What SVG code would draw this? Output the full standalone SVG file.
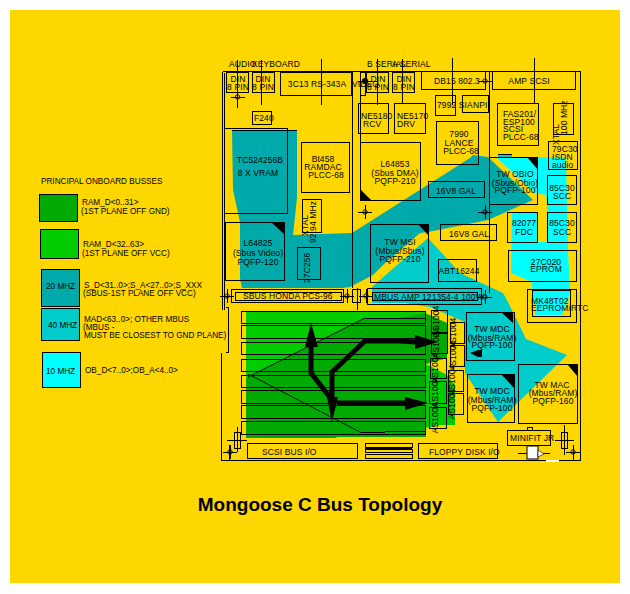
<svg xmlns="http://www.w3.org/2000/svg" width="630" height="594" viewBox="0 0 630 594">
<style>
text{font-family:"Liberation Sans",Arial,sans-serif;font-size:8.5px;fill:#000;letter-spacing:.1px}
#legend text{font-size:8.2px;letter-spacing:0}
.m{text-anchor:middle}
.b{fill:none;stroke:#000;stroke-width:1;shape-rendering:crispEdges}
.l{fill:none;stroke:#000;stroke-width:1;shape-rendering:crispEdges}
.s{stroke:#000;stroke-width:1;shape-rendering:crispEdges}
.k{fill:#000}
.th{fill:none;stroke:#000;stroke-width:5;stroke-linejoin:miter}
.thin{fill:none;stroke:#000;stroke-width:.9}
.title{font-size:19px;font-weight:bold;letter-spacing:0}
</style>
<defs>
<g id="cross"><line class="l" x1="-7" x2="7" y1="0" y2="0"/><line class="l" x1="0" x2="0" y1="-7" y2="7"/><circle class="thin" r="2.2"/></g>
</defs>
<rect width="630" height="594" fill="#fff"/>
<rect x="10" y="10" width="610" height="573" fill="#FFD700"/>

<g id="planes">
<polygon id="ram-hi" fill="#00CC00" points="246,312 425,312 425,378 246,378"/>
<polygon id="ram-lo" fill="#00AA00" points="246,378 365,318 400,318 425,313 447,323 447,358 426,364 426,437 337,437 336,438 246,438 246,408 246,378"/>
<polygon id="ram-hi2" fill="#00CC00" points="426,364 447,375 455,385 455,425 440,425 426,428"/>
<polygon id="sbus" fill="#00AAAA" points="232,130 297,130 297,198 293,235 352,233 470,158 473,155 488,157 533,200 488,220 428,232 420,233 383,265 373,275 350,287 343,288 242,288 240,278 240,222 233,190"/>
<polygon id="mbus" fill="#00CCCC" points="428,238 372,287 372,303 405,303 430,307 465,322 465,373 498,422 567,355 526,339 507,300 503,293 460,273"/>
<polygon id="obus" fill="#00FFFF" points="497,158 566,157 568,250 570,290 568,300 562,315 535,315 535,305 532,292 532,282 511,273 512,212 537,212 537,242 547,242 547,203 546,195 535,193"/>
</g>

<g id="connectors">
<path class="l" d="M222.500 71.500H580.500V460.500H221.500V353M222.500 71.500V310M224.500 73V310M352 71V288M360.500 71V200M489.500 71V293M357 288V310"/>
<path class="l" d="M226 307.500H228.500V352.500H226"/>
<path class="l" d="M237.500 60V108M261.500 60V105M321.500 59V105M377.500 59V105M402.500 59V104M452.500 58V105M534.500 58V104"/>
<path class="l" d="M232 130.500H297"/>
<line class="thin" x1="248" y1="377" x2="365" y2="318"/>
<line class="thin" x1="248" y1="374" x2="360" y2="432"/>
<path class="l" d="M365 318H425M360 432.500H385M385 431H425"/>
<path class="th" d="M332 400L311 373V345"/>
<polygon class="k" points="311,323 305,347 318,347"/>
<path class="th" d="M332 397V372L365 341H400L416 342"/>
<polygon class="k" points="438,342 415,335 415,349"/>
<path class="th" d="M337 403H406"/>
<polygon class="k" points="428,403 405,397 405,410"/>
<polygon class="k" points="332,422 327,397 338,397"/>
<polygon class="k" points="470,353 478,350 482,350 482,357 478,357"/>
<rect x="498" y="154" width="14" height="3" fill="#00CCCC"/>
<path class="l" d="M498 154.500H512"/>
</g>

<g id="crosshairs">
<use href="#cross" x="237.500" y="97"/>
<use href="#cross" x="227" y="296"/>
<use href="#cross" x="347" y="296"/>
<use href="#cross" x="366" y="296"/>
<use href="#cross" x="485" y="297"/>
<use href="#cross" x="485" y="212"/>
<use href="#cross" x="365" y="212"/>
<use href="#cross" x="230" y="452"/>
<use href="#cross" x="573" y="452"/>
<use href="#cross" x="485" y="81"/>
<use href="#cross" x="365" y="81"/>
<circle cx="365" cy="81" r="3" class="k"/>
</g>

<g id="legend">
<text x="41" y="184">PRINCIPAL ONBOARD BUSSES</text>
<rect class="s" x="39.500" y="194.500" width="38" height="27" fill="#00AA00"/>
<text x="82" y="205">RAM_D&lt;0..31&gt;</text><text x="81" y="214">(1ST PLANE OFF GND)</text>
<rect class="s" x="40.500" y="229.500" width="38" height="29" fill="#00CC00"/>
<text x="83" y="247">RAM_D&lt;32..63&gt;</text><text x="82" y="256">(1ST PLANE OFF VCC)</text>
<rect class="s" x="41.500" y="269.500" width="38" height="37" fill="#00AAAA"/>
<text x="46" y="289">20 MHZ</text>
<text x="84" y="288">S_D&lt;31..0&gt;;S_A&lt;27..0&gt;;S_XXX</text><text x="83" y="296">(SBUS-1ST PLANE OFF VCC)</text>
<rect class="s" x="41.500" y="308.500" width="38" height="32" fill="#00CCCC"/>
<text x="48" y="328">40 MHZ</text>
<text x="84" y="322">MAD&lt;63..0&gt;; OTHER MBUS</text><text x="83" y="330">(MBUS -</text><text x="84" y="338">MUST BE CLOSEST TO GND PLANE)</text>
<rect class="s" x="42.500" y="352.500" width="38" height="35" fill="#00FFFF"/>
<text x="46" y="374">10 MHZ</text>
<text x="85" y="373">OB_D&lt;7..0&gt;;OB_A&lt;4..0&gt;</text>
</g>

<g id="board-labels">
<text x="229" y="67">AUDIO</text><text x="252" y="67">KEYBOARD</text>
<text x="367" y="67">B SERIAL</text><text x="392" y="67">A SERIAL</text>
<text x="352" y="87">VIDEO</text>
</g>

<g id="din1"><rect class="b" x="226.500" y="72.500" width="22" height="20"/><text class="m" x="238" y="82">DIN</text><text class="m" x="238" y="90">8 PIN</text></g>
<g id="din2"><rect class="b" x="252.500" y="72.500" width="22" height="20"/><text class="m" x="263" y="82">DIN</text><text class="m" x="263" y="90">8 PIN</text></g>
<g id="n3c13"><rect class="b" x="280.500" y="72.500" width="71" height="23"/><text class="m" x="317" y="87">3C13 RS-343A</text></g>
<rect class="b" x="360.500" y="72.500" width="5" height="23"/>
<g id="din3"><rect class="b" x="366.500" y="72.500" width="22" height="20"/><text class="m" x="378" y="82">DIN</text><text class="m" x="378" y="90">8 PIN</text></g>
<g id="din4"><rect class="b" x="392.500" y="72.500" width="22" height="20"/><text class="m" x="404" y="82">DIN</text><text class="m" x="404" y="90">8 PIN</text></g>
<g id="db15"><rect class="b" x="421.500" y="71.500" width="64" height="18"/><text class="m" x="457" y="84">DB15 802.3</text></g>
<g id="ampscsi"><rect class="b" x="492.500" y="71.500" width="83" height="18"/><text class="m" x="529" y="84">AMP SCSI</text></g>
<g id="f240"><rect class="b" x="252.500" y="111.500" width="19" height="13"/><text x="254" y="121">F240</text></g>
<g id="vram"><rect class="b" x="224.500" y="128.500" width="63" height="85"/><text class="m" x="260" y="163">TC524256B</text><text class="m" x="258" y="176">8 X VRAM</text></g>
<g id="bt458"><rect class="b" x="301.500" y="142.500" width="48" height="50"/><text class="m" x="323" y="162">Bt458</text><text class="m" x="323" y="170">RAMDAC</text><text class="m" x="326" y="178">PLCC-68</text></g>
<g id="ne5180"><rect class="b" x="358.500" y="103.500" width="30" height="30"/><text x="361" y="119">NE5180</text><text x="363" y="127">RCV</text></g>
<g id="ne5170"><rect class="b" x="394.500" y="103.500" width="31" height="30"/><text x="397" y="119">NE5170</text><text x="397" y="127">DRV</text></g>
<g id="l64853"><rect class="b" x="360.500" y="142.500" width="60" height="58"/><polygon class="k" points="361,190 361,201 372,201"/><text class="m" x="395" y="167">L64853</text><text class="m" x="395" y="176">(Sbus DMA)</text><text class="m" x="395" y="184">PQFP-210</text></g>
<g id="n7992"><rect class="b" x="435.500" y="95.500" width="20" height="20"/><text x="437" y="108">7992 SIA</text></g>
<g id="npi"><rect class="b" x="462.500" y="95.500" width="26" height="17"/><text x="473" y="108">NPI</text></g>
<g id="n7990"><rect class="b" x="436.500" y="121.500" width="42" height="43"/><text class="m" x="459" y="137">7990</text><text class="m" x="459" y="146">LANCE</text><text class="m" x="461" y="154">PLCC-68</text></g>
<g id="fas201"><rect class="b" x="497.500" y="103.500" width="41" height="42"/><text x="503" y="117">FAS201/</text><text x="503" y="125">ESP100</text><text x="503" y="132">SCSI</text><text x="503" y="140">PLCC-68</text></g>
<g id="xtal100"><rect class="b" x="553.500" y="103.500" width="20" height="31"/><text transform="translate(559,145) rotate(-90)">XTAL</text><text transform="translate(567,135) rotate(-90)">100 MHz</text></g>
<g id="isdn"><rect class="b" x="548.500" y="141.500" width="29" height="28"/><text x="552" y="152">79C30</text><text x="552" y="160">ISDN</text><text x="552" y="168">audio</text></g>
<g id="scc1"><rect class="b" x="547.500" y="175.500" width="29" height="29"/><text class="m" x="562" y="191">85C30</text><text class="m" x="562" y="199">SCC</text></g>
<g id="scc2"><rect class="b" x="547.500" y="212.500" width="29" height="30"/><text class="m" x="562" y="226">85C30</text><text class="m" x="562" y="235">SCC</text></g>
<g id="fdc"><rect class="b" x="507.500" y="212.500" width="30" height="30"/><text class="m" x="524" y="226">82077</text><text class="m" x="524" y="235">FDC</text></g>
<g id="eprom"><rect class="b" x="508.500" y="250.500" width="68" height="31"/><text class="m" x="546" y="265">27C020</text><text class="m" x="546" y="272">EPROM</text></g>
<g id="mk48"><rect class="b" x="527.500" y="289.500" width="49" height="33"/><rect class="b" x="532.500" y="290.500" width="38" height="26"/><text x="531" y="304">MK48T02</text><text x="531" y="311">EEPROM/RTC</text></g>
<g id="gal1"><rect class="b" x="428.500" y="181.500" width="56" height="16"/><text class="m" x="456" y="194">16V8 GAL</text></g>
<g id="gal2"><rect class="b" x="440.500" y="224.500" width="56" height="16"/><text class="m" x="469" y="237">16V8 GAL</text></g>
<g id="abt"><rect class="b" x="438.500" y="259.500" width="38" height="22"/><text class="m" x="459" y="274">ABT16244</text></g>
<g id="twmsi"><rect class="b" x="370.500" y="224.500" width="58" height="58"/><polygon class="k" points="418,224 429,224 429,236"/><text class="m" x="400" y="245">TW MSI</text><text class="m" x="400" y="254">(Mbus/Sbus)</text><text class="m" x="400" y="262">PQFP-210</text></g>
<g id="twobio"><rect class="b" x="489.500" y="157.500" width="48" height="47"/><polygon class="k" points="527,157 538,157 538,170"/><text class="m" x="515" y="177">TW OBIO</text><text class="m" x="515" y="186">(Sbus/Obio)</text><text class="m" x="515" y="193">PQFP-100</text></g>
<g id="l64825"><rect class="b" x="225.500" y="222.500" width="59" height="58"/><polygon class="k" points="271,222 284,222 284,234"/><text class="m" x="258" y="246">L64825</text><text class="m" x="258" y="256">(Sbus Video)</text><text class="m" x="258" y="265">PQFP-120</text></g>
<g id="xtal92"><rect class="b" x="302.500" y="199.500" width="19" height="33"/><text transform="translate(308,236) rotate(-90)">XTAL</text><text transform="translate(316,243) rotate(-90)">92.94 MHz</text></g>
<g id="c256"><rect class="b" x="297.500" y="247.500" width="23" height="32"/><text transform="translate(310,283) rotate(-90)">27C256</text></g>
<g id="honda"><rect class="b" x="231.500" y="289.500" width="112" height="13"/><rect class="b" x="235.500" y="292.500" width="106" height="8"/><text x="243" y="298.500">SBUS HONDA PCS-96</text></g>
<rect class="b" x="352.500" y="289.500" width="8" height="13"/>
<g id="mbusamp"><rect class="b" x="367.500" y="288.500" width="114" height="16"/><rect class="b" x="372.500" y="292.500" width="105" height="8"/><text x="374" y="300">MBUS AMP 121354-4 100W</text></g>
<g id="dimms">
<rect class="b" x="241.500" y="311.500" width="184" height="12"/>
<rect class="b" x="241.500" y="325.500" width="184" height="13"/>
<rect class="b" x="241.500" y="342.500" width="184" height="12"/>
<rect class="b" x="241.500" y="359.500" width="184" height="12"/>
<rect class="b" x="241.500" y="375.500" width="184" height="12"/>
<rect class="b" x="241.500" y="390.500" width="184" height="13"/>
<rect class="b" x="241.500" y="405.500" width="184" height="13"/>
<rect class="b" x="241.500" y="421.500" width="184" height="13"/>
</g>
<g id="as1004">
<rect class="b" x="431.500" y="310.500" width="16" height="22"/><text class="m" transform="translate(439,321) rotate(-90)">AS1004</text>
<rect class="b" x="431.500" y="333.500" width="16" height="20"/><text class="m" transform="translate(439,343) rotate(-90)">AS1004</text>
<rect class="b" x="430.500" y="358.500" width="16" height="20"/><text class="m" transform="translate(438,368) rotate(-90)">AS1004</text>
<rect class="b" x="429.500" y="381.500" width="17" height="22"/><text class="m" transform="translate(438,392) rotate(-90)">AS1004</text>
<rect class="b" x="429.500" y="407.500" width="17" height="21"/><text class="m" transform="translate(438,418) rotate(-90)">AS1004</text>
<rect class="b" x="450.500" y="322.500" width="14" height="21"/><text class="m" transform="translate(456,333) rotate(-90)">AS1004</text>
<rect class="b" x="450.500" y="345.500" width="14" height="21"/><text class="m" transform="translate(456,356) rotate(-90)">AS1004</text>
<rect class="b" x="448.500" y="370.500" width="15" height="21"/><text class="m" transform="translate(455,380) rotate(-90)">AS1004</text>
<rect class="b" x="448.500" y="393.500" width="15" height="21"/><text class="m" transform="translate(455,404) rotate(-90)">AS1004</text>
</g>
<g id="mdc1"><rect class="b" x="466.500" y="312.500" width="48" height="48"/><polygon class="k" points="501,312 513,312 513,323"/><text class="m" x="492" y="332">TW MDC</text><text class="m" x="492" y="341">(Mbus/RAM)</text><text class="m" x="492" y="348">PQFP-100</text></g>
<g id="mdc2"><rect class="b" x="467.500" y="374.500" width="47" height="48"/><polygon class="k" points="501,374 514,374 514,388"/><text class="m" x="492" y="394">TW MDC</text><text class="m" x="492" y="403">(Mbus/RAM)</text><text class="m" x="492" y="411">PQFP-100</text></g>
<g id="mac"><rect class="b" x="518.500" y="364.500" width="59" height="59"/><polygon class="k" points="567,364 578,364 578,377"/><text class="m" x="552" y="388">TW MAC</text><text class="m" x="553" y="396">(Mbus/RAM)</text><text class="m" x="553" y="404">PQFP-160</text></g>
<g id="scsiio"><rect class="b" x="247.500" y="443.500" width="110" height="15"/><text x="262" y="455">SCSI BUS I/O</text></g>
<g id="stripes"><rect class="b" x="365.500" y="443.500" width="47" height="4"/><rect x="365" y="447" width="47" height="2" class="k"/><rect class="b" x="365.500" y="449.500" width="47" height="3"/><rect class="b" x="365.500" y="454.500" width="47" height="4"/></g>
<g id="floppy"><rect class="b" x="418.500" y="443.500" width="79" height="15"/><text x="429" y="455">FLOPPY DISK I/O</text></g>
<g id="minifit"><rect class="b" x="507.500" y="430.500" width="43" height="15"/><rect class="b" x="527.500" y="427.500" width="5" height="3"/><text x="510" y="441">MINIFIT JR.</text></g>
<g id="fuses">
<rect class="b" x="234.500" y="432.500" width="6" height="16"/><path class="l" d="M227 440.500H247M237.500 427V452M229.500 445V460"/>
<rect class="b" x="561.500" y="432.500" width="6" height="16"/><path class="l" d="M555 440.500H574M564.500 425V455M573.500 445V460"/>
</g>
<g id="jack">
<path class="l" d="M518 453.500H550"/>
<rect x="527" y="446" width="11" height="13" fill="#fff" stroke="#000"/>
<polygon points="538,450 544,454 538,457" fill="#fff" stroke="#000" stroke-width=".6"/>
<rect x="546" y="460" width="13" height="2" fill="#fff"/>
</g>

<text class="title m" x="320" y="511">Mongoose C Bus Topology</text>
</svg>
